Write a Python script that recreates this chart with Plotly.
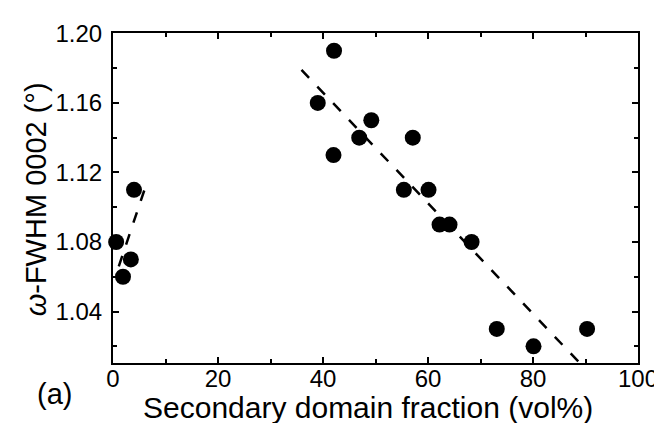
import plotly.graph_objects as go

# Data points
frac = [0.6, 1.9, 3.4, 4.0, 39.0, 42.1, 42.0, 46.9, 49.2, 57.1, 55.4, 60.1, 62.2, 64.1, 68.3, 73.1, 80.1, 90.3]
fwhm = [1.08, 1.06, 1.07, 1.11, 1.16, 1.19, 1.13, 1.14, 1.15, 1.14, 1.11, 1.11, 1.09, 1.09, 1.08, 1.03, 1.02, 1.03]

# Dashed guide lines (end points)
fit1_x = [1.1, 6.1]
fit1_y = [1.066, 1.111]
fit2_x = [35.9, 88.9]
fit2_y = [1.179, 1.0104]

x_ticks = [0, 20, 40, 60, 80, 100]
y_ticks = [1.04, 1.08, 1.12, 1.16, 1.20]

FONT = "Arial, Liberation Sans, sans-serif"

fig = go.Figure()
for fx, fy in [(fit1_x, fit1_y), (fit2_x, fit2_y)]:
    fig.add_trace(go.Scatter(x=fx, y=fy, mode="lines",
                             line=dict(color="black", width=2.5, dash="11px,12px"),
                             showlegend=False, hoverinfo="skip"))
fig.add_trace(go.Scatter(x=frac, y=fwhm, mode="markers",
                         marker=dict(color="black", size=16, line=dict(width=0)),
                         cliponaxis=False, showlegend=False))

axis_common = dict(showgrid=False, zeroline=False, showline=True, linecolor="black",
                   linewidth=2, ticks="inside", tickcolor="black", tickwidth=2,
                   ticklen=6, mirror="allticks",
                   tickfont=dict(family=FONT, size=24, color="black"))

fig.update_xaxes(range=[0, 100], tickvals=x_ticks, ticktext=[str(v) for v in x_ticks],
                 ticklabelstandoff=-7,
                 minor=dict(dtick=10, tick0=0, ticks="inside", ticklen=4, tickwidth=2, tickcolor="black"),
                 **axis_common)
fig.update_yaxes(range=[1.0104, 1.2002], tickvals=y_ticks, ticktext=["%.2f" % v for v in y_ticks],
                 ticklabelstandoff=4,
                 minor=dict(dtick=0.02, tick0=1.0, ticks="inside", ticklen=4, tickwidth=2, tickcolor="black"),
                 **axis_common)

fig.update_layout(
    width=662, height=423,
    margin=dict(l=105, r=32, t=22, b=68),
    plot_bgcolor="white", paper_bgcolor="white",
    font=dict(family=FONT, color="black"),
    annotations=[
        dict(text="Secondary domain fraction (vol%)", xref="paper", yref="paper",
             x=0.486, y=-0.135, xanchor="center", yanchor="middle", showarrow=False,
             font=dict(family=FONT, size=30, color="black")),
        dict(text="<i>ω</i>-FWHM 0002 (°)", xref="paper", yref="paper",
             x=-0.145, y=0.4955, xanchor="center", yanchor="middle", showarrow=False,
             textangle=-90, font=dict(family=FONT, size=29, color="black")),
        dict(text="(a)", xref="paper", yref="paper",
             x=-0.112, y=-0.093, xanchor="center", yanchor="middle", showarrow=False,
             font=dict(family=FONT, size=29, color="black")),
    ],
)

fig.write_html("out.html")
